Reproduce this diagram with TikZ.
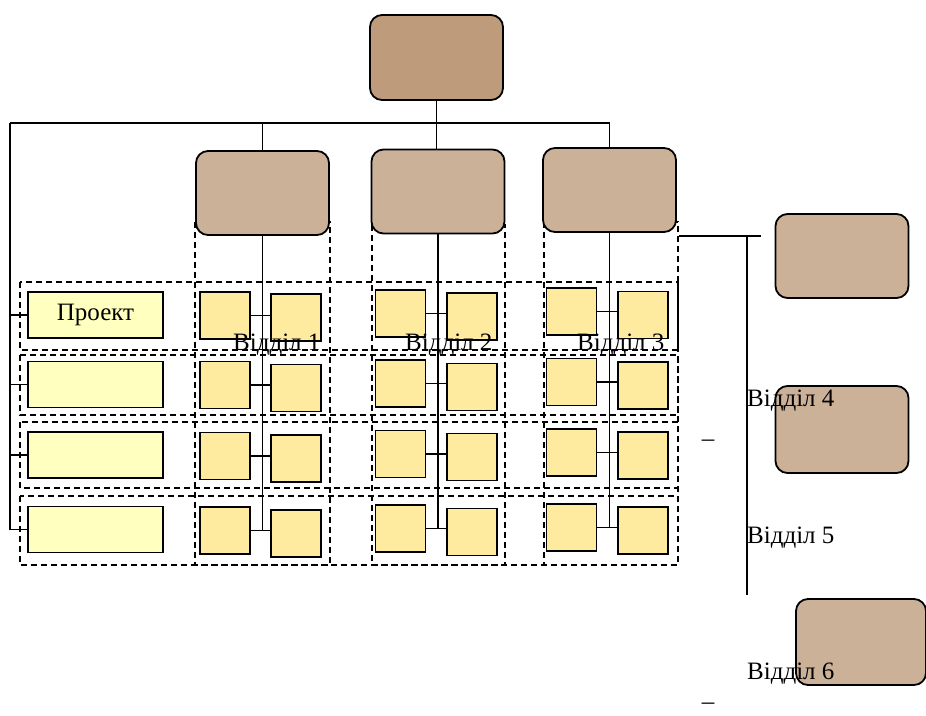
\documentclass[tikz,border=0pt]{standalone}
\usepackage{fontspec}
\setmainfont{Liberation Serif}
\definecolor{headfill}{HTML}{BE9B7B}
\definecolor{deptfill}{HTML}{CCB199}
\definecolor{projfill}{HTML}{FFFFC0}
\definecolor{unitfill}{HTML}{FFEBA0}
\begin{document}
\begin{tikzpicture}
[x=1pt,y=-1pt,every node/.style={font=\fontsize{25}{30}\selectfont},
head/.style={draw=black,line width=1.8pt,fill=headfill,rounded corners=12pt,minimum width=133pt,minimum height=85pt,inner sep=0pt},
dept/.style={head,fill=deptfill,minimum height=84pt},
proj/.style={draw=black,line width=1.8pt,fill=projfill,minimum width=135pt,minimum height=46pt,inner sep=0pt},
unit/.style={draw=black,line width=1.8pt,fill=unitfill,minimum width=50pt,minimum height=47pt,inner sep=0pt},
cell/.style={draw=black,line width=1.6pt,dash pattern=on 6pt off 4pt},
link/.style={draw=black,line width=1.7pt},
lbl/.style={inner sep=0pt}]
\useasboundingbox (0,0) rectangle (926,715);
% dashed cells
\draw[cell] (20,282) rectangle (678,350);
\draw[cell] (20,355) rectangle (678,415);
\draw[cell] (20,422) rectangle (678,488);
\draw[cell] (20,496) rectangle (678,565);
\draw[cell] (195,222) rectangle (330,565);
\draw[cell] (372,225) rectangle (505,565);
\draw[cell] (544,222) rectangle (678,565);
% heads
\node[head] (top) at (436.5,57.5) {};
\node[dept] (d1) at (262.5,193) {};
\node[dept] (d2) at (438,191.5) {};
\node[dept] (d3) at (609.5,190) {};
\node[dept] (d4) at (842,256) {};
\node[dept,minimum height=87pt] (d5) at (842,429.5) {};
\node[dept,minimum width=130pt,minimum height=86pt] (d6) at (861,642) {};
% projects
\node[proj] (p1) at (95.5,315) {Проект};
\node[proj] (p2) at (95.5,384.5) {};
\node[proj] (p3) at (95.5,455) {};
\node[proj] (p4) at (95.5,529.5) {};
% units
\node[unit] (l11) at (225,315.5) {};
\node[unit] (r11) at (296,317.5) {};
\node[unit] (l12) at (225,385) {};
\node[unit] (r12) at (296,388) {};
\node[unit] (l13) at (225,456) {};
\node[unit] (r13) at (296,458.5) {};
\node[unit] (l14) at (225,530.5) {};
\node[unit] (r14) at (296,533.5) {};
\node[unit] (l21) at (400.5,313.5) {};
\node[unit] (r21) at (472,316.5) {};
\node[unit] (l22) at (400.5,383.5) {};
\node[unit] (r22) at (472,387) {};
\node[unit] (l23) at (400.5,454) {};
\node[unit] (r23) at (472,457) {};
\node[unit] (l24) at (400.5,528.5) {};
\node[unit] (r24) at (472,532) {};
\node[unit] (l31) at (571.5,311.5) {};
\node[unit] (r31) at (643,315) {};
\node[unit] (l32) at (571.5,382) {};
\node[unit] (r32) at (643,385.5) {};
\node[unit] (l33) at (571.5,452.5) {};
\node[unit] (r33) at (643,455.5) {};
\node[unit] (l34) at (571.5,527.5) {};
\node[unit] (r34) at (643,530.5) {};
\coordinate (c0) at (10,123);
\coordinate (c1) at (679,236);
\coordinate (c2) at (761,236);
\coordinate (c3) at (747,595);
% connectors
\draw[link] (top.south) -- (top.south |- d2.north);
\draw[link] (c0) -- (c0 -| d3.north) (d1.north |- c0) -- (d1.north) (d3.north |- c0) -- (d3.north);
\draw[link] (c0) -- (c0 |- p4.west);
\draw[link] (c0 |- p1.west) -- (p1.west) (c0 |- p2.west) -- (p2.west) (c0 |- p3.west) -- (p3.west) (c0 |- p4.west) -- (p4.west);
\draw[link] (d1.south) -- (d1.south |- l14.east);
\draw[link] (d2.south) -- (d2.south |- l24.east);
\draw[link] (d3.south) -- (d3.south |- l34.east);
\draw[link] (l11.east) -- (l11.east -| r11.west) (l12.east) -- (l12.east -| r12.west) (l13.east) -- (l13.east -| r13.west) (l14.east) -- (l14.east -| r14.west);
\draw[link] (l21.east) -- (l21.east -| r21.west) (l22.east) -- (l22.east -| r22.west) (l23.east) -- (l23.east -| r23.west) (l24.east) -- (l24.east -| r24.west);
\draw[link] (l31.east) -- (l31.east -| r31.west) (l32.east) -- (l32.east -| r32.west) (l33.east) -- (l33.east -| r33.west) (l34.east) -- (l34.east -| r34.west);
\draw[link] (c1) -- (c2) (c2 -| c3) -- (c3);
% labels
\node[lbl,anchor=base west] (t1) at (233,350) {Відділ 1};
\node[lbl,anchor=base west] (t2) at (405,350) {Відділ 2};
\node[lbl,anchor=base west] (t3) at (577,350) {Відділ 3};
\node[lbl,anchor=base west] (t4) at (747,406) {Відділ 4};
\node[lbl,anchor=base west] (t5) at (747,543) {Відділ 5};
\node[lbl,anchor=base west] (t6) at (747,679) {Відділ 6};
\node[lbl,anchor=base] (m1) at (708,446) {–};
\node[lbl,anchor=base] (m2) at (708,709) {–};
\end{tikzpicture}
\end{document}
